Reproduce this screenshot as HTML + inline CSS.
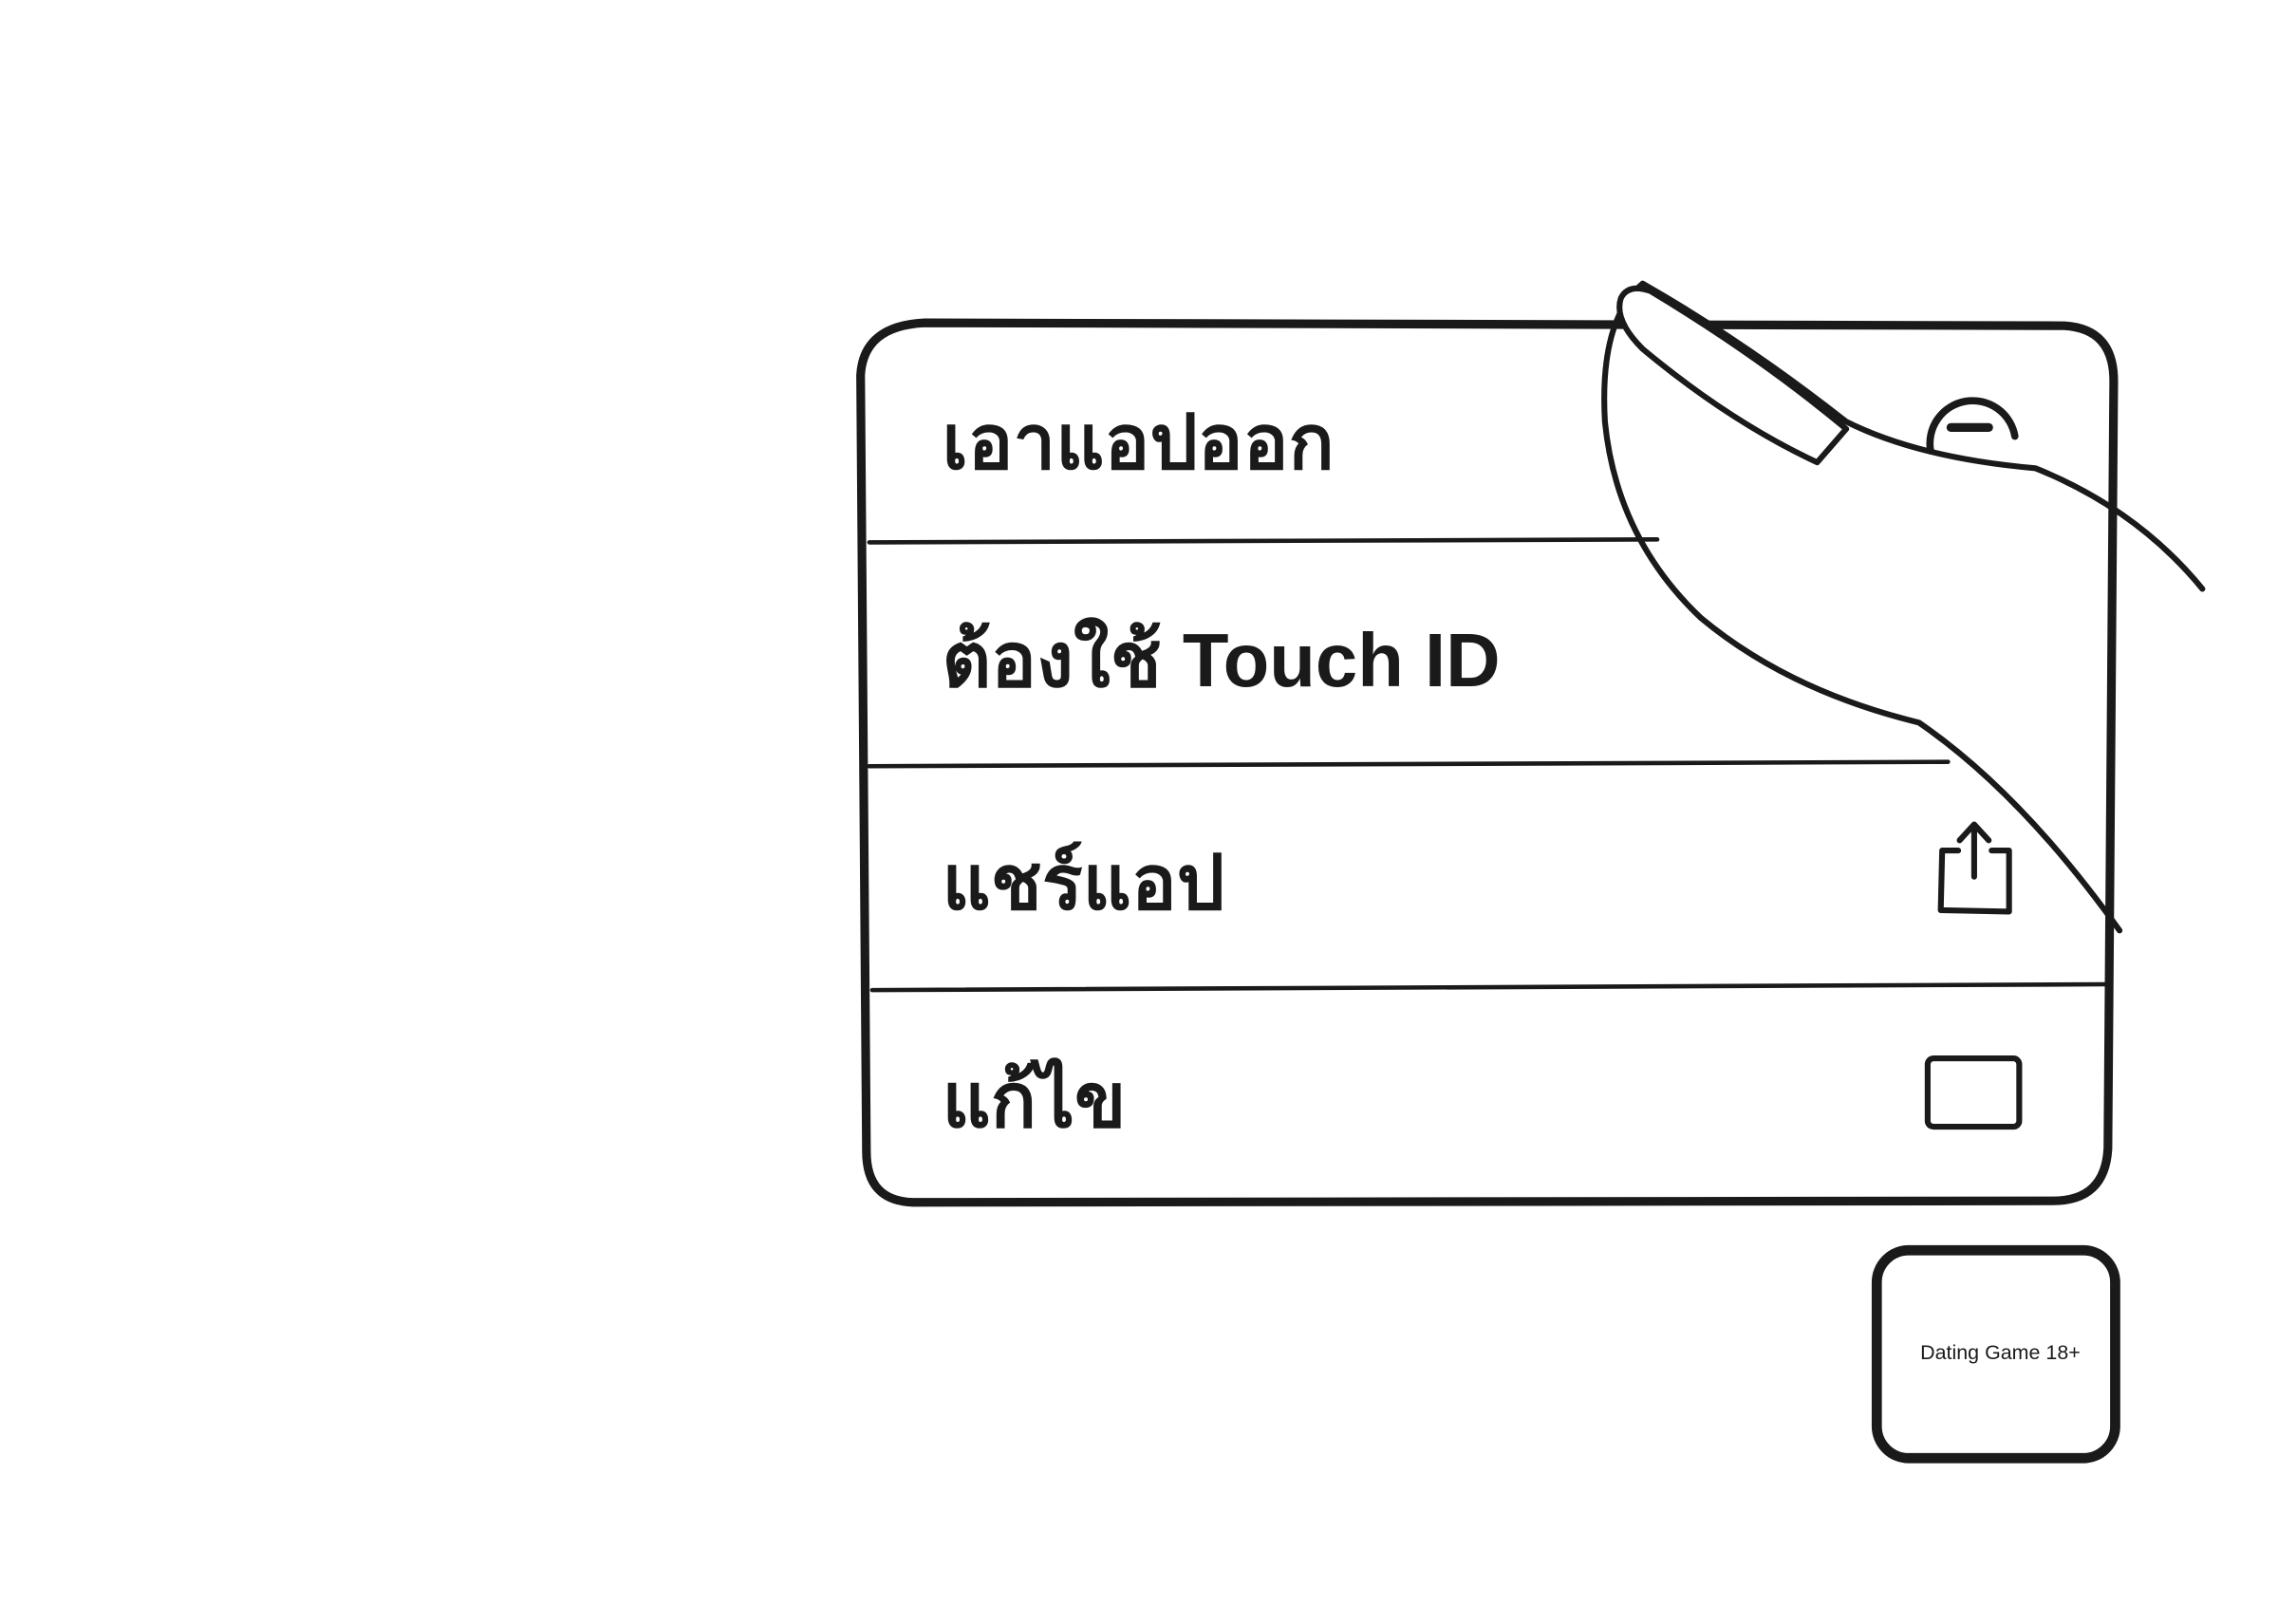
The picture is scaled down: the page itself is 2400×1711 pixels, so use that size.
<!DOCTYPE html>
<html><head><meta charset="utf-8">
<style>
html,body{margin:0;padding:0;background:#fff;}
svg{display:block;}
text{font-family:"Liberation Sans","DejaVu Sans",sans-serif;fill:#1a1a1a;}
</style></head>
<body>
<svg width="2400" height="1711" viewBox="0 0 1567 1117" xmlns="http://www.w3.org/2000/svg">
<rect width="1567" height="1117" fill="#fff"/>
<g fill="none" stroke="#1a1a1a" stroke-linecap="round" stroke-linejoin="round">
  <path d="M636,222 L1420,224 Q1454,226 1454,262 L1450,790 Q1448,826 1412,826 L628,827 Q596,826 596,792 L592,258 Q594,224 636,222 Z" stroke-width="6"/>
  <path d="M598,373 L1140,371" stroke-width="3"/>
  <path d="M598,527 L1340,524" stroke-width="3"/>
  <path d="M600,681 L1448,677" stroke-width="3"/>
  <path d="M1328,310 A28,28 0 1 1 1386,300" stroke-width="5"/>
  <path d="M1342,294 L1368,294" stroke-width="6"/>
  <path d="M1347,585 L1336,585 L1335,626 L1382,627 L1382,585 L1370,585" stroke-width="4"/>
  <path d="M1358,603 L1358,568 M1348,578 L1358,567 L1368,578" stroke-width="4"/>
  <rect x="1326" y="728" width="63" height="47" rx="4" stroke-width="4"/>
  <rect x="1291" y="860" width="164" height="143" rx="22" stroke-width="7"/>
  <path d="M1130,195 Q1100,220 1104,290 Q1112,370 1170,425 Q1230,475 1320,497 Q1390,545 1458,640" stroke-width="4"/>
  <path d="M1130,195 Q1200,235 1270,290 Q1320,315 1400,322 Q1470,350 1515,405" stroke-width="4"/>
  <path d="M1115,205 Q1120,195 1135,200 Q1210,245 1270,295 L1250,318 Q1190,290 1130,240 Q1110,220 1115,205 Z" stroke-width="4" fill="#fff"/>
</g>
<text x="648" y="322" font-size="52" font-weight="bold">เอาแอปออก</text>
<text x="648" y="472" font-size="52" font-weight="bold">ต้องใช้ Touch ID</text>
<text x="648" y="625" font-size="52" font-weight="bold">แชร์แอป</text>
<text x="648" y="775" font-size="52" font-weight="bold">แก้ไข</text>
<text x="1376" y="935" font-size="14" text-anchor="middle">Dating Game 18+</text>
</svg>
</body></html>
